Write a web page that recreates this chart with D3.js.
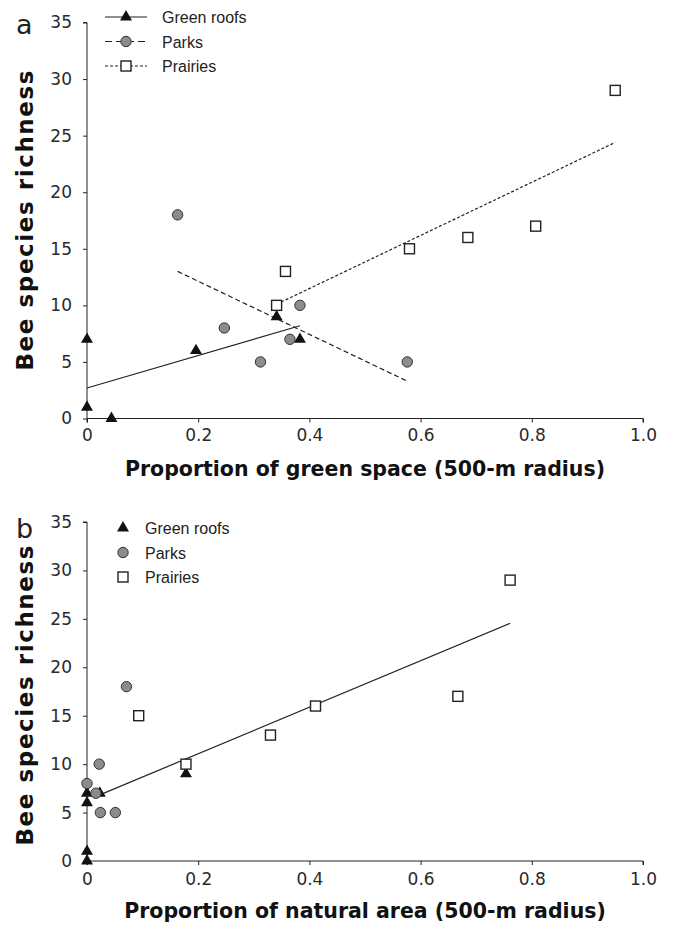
<!DOCTYPE html>
<html>
<head>
<meta charset="utf-8">
<script src="https://cdn.jsdelivr.net/npm/d3@7"></script>
<style>
  body { margin: 0; background: #fff; }
  .tick text { font-family: "DejaVu Sans", Verdana, sans-serif; font-size: 17px; fill: #2a2a2a; }
  .tick line, .domain { stroke: #222; }
  .ttl { font-family: "DejaVu Sans", Verdana, sans-serif; font-weight: bold; font-size: 20.5px; fill: #111; }
  .ytl { font-size: 23px; }
  .leg { font-family: "Liberation Sans", Arial, sans-serif; font-size: 16px; fill: #222; }
  .panel { font-family: "DejaVu Sans", Verdana, sans-serif; font-size: 27px; fill: #222; }
  .fit { fill: none; stroke: #222; stroke-width: 1.2; }
</style>
</head>
<body>
<div id="chart"></div>
<script>
// ---- data ----
var xTicks = [0, 0.2, 0.4, 0.6, 0.8, 1.0];
var yTicks = [0, 5, 10, 15, 20, 25, 30, 35];
var seriesNames = ["Green roofs", "Parks", "Prairies"];

// panel a : proportion of green space
var roofsA    = [[0, 7], [0, 1], [0.044, 0], [0.196, 6], [0.341, 9], [0.383, 7]];
var parksA    = [[0.163, 18], [0.247, 8], [0.312, 5], [0.365, 7], [0.383, 10], [0.576, 5]];
var prairiesA = [[0.341, 10], [0.357, 13], [0.580, 15], [0.685, 16], [0.807, 17], [0.950, 29]];
var fitRoofsA    = [[0, 2.7], [0.383, 8.2]];
var fitParksA    = [[0.163, 13.0], [0.576, 3.3]];
var fitPrairiesA = [[0.341, 10.1], [0.950, 24.4]];

// panel b : proportion of natural area
var roofsB    = [[0, 7], [0.023, 7], [0, 6], [0.178, 9], [0, 1], [0, 0]];
var parksB    = [[0.071, 18], [0.022, 10], [0, 8], [0.016, 7], [0.024, 5], [0.051, 5]];
var prairiesB = [[0.093, 15], [0.178, 10], [0.330, 13], [0.411, 16], [0.667, 17], [0.761, 29]];
var fitAllB   = [[0.022, 6.8], [0.761, 24.55]];

var width = 675, height = 930;
var svg = d3.select("#chart").append("svg")
  .attr("width", width)
  .attr("height", height);

var x = d3.scaleLinear().domain([0, 1]).range([87, 643]);

var dashes = { "Green roofs": null, "Parks": "7,4", "Prairies": "3,2" };

function marker(g, name, cx, cy) {
  if (name === "Green roofs") {
    g.append("path")
      .attr("d", d3.symbol().type(d3.symbolTriangle).size(62)())
      .attr("transform", "translate(" + cx + "," + cy + ")")
      .attr("fill", "#111");
  } else if (name === "Parks") {
    g.append("circle")
      .attr("cx", cx).attr("cy", cy).attr("r", 5.2)
      .attr("fill", "#8c8c8c")
      .attr("stroke", "#333").attr("stroke-width", 1);
  } else {
    g.append("rect")
      .attr("x", cx - 5).attr("y", cy - 5)
      .attr("width", 10).attr("height", 10)
      .attr("fill", "#fff")
      .attr("stroke", "#222").attr("stroke-width", 1.4);
  }
}

function panel(opt) {
  var y = d3.scaleLinear().domain([0, 35]).range([opt.bottom, opt.top]);
  var g = svg.append("g");

  g.append("g")
    .attr("transform", "translate(0," + opt.bottom + ")")
    .call(d3.axisBottom(x).tickValues(xTicks).tickSize(4).tickPadding(opt.xPad)
      .tickFormat(function (d) { return d === 0 ? "0" : d.toFixed(1); }))
    .call(function (a) { a.select(".domain").attr("d", "M87,4V0H643V4"); });

  g.append("g")
    .attr("transform", "translate(" + x(0) + ",0)")
    .call(d3.axisLeft(y).tickValues(yTicks).tickSize(4).tickPadding(11))
    .call(function (a) {
      a.select(".domain").attr("d", "M-4," + opt.top + "H0V" + opt.bottom);
    });

  // axis titles
  g.append("text").attr("class", "ttl")
    .attr("x", (x(0) + x(1)) / 2).attr("y", opt.bottom + 57)
    .attr("text-anchor", "middle")
    .text(opt.xTitle);
  g.append("text").attr("class", "ttl ytl")
    .attr("transform", "translate(33," + ((opt.top + opt.bottom) / 2 + opt.yTitleDy) + ") rotate(-90)")
    .attr("text-anchor", "middle")
    .attr("textLength", 300)
    .attr("lengthAdjust", "spacing")
    .text("Bee species richness");

  g.append("text").attr("class", "panel")
    .attr("x", 16).attr("y", opt.top + opt.letterDy)
    .text(opt.letter);

  var line = d3.line().x(function (d) { return x(d[0]); }).y(function (d) { return y(d[1]); });
  opt.fits.forEach(function (f) {
    g.append("path").datum(f.data)
      .attr("class", "fit")
      .attr("stroke-dasharray", f.dash)
      .attr("d", line);
  });

  var pts = g.append("g");
  opt.series.forEach(function (s) {
    s.data.forEach(function (d) { marker(pts, s.name, x(d[0]), y(d[1])); });
  });

  // legend
  var lg = g.append("g");
  seriesNames.forEach(function (name, i) {
    var ly = opt.legendY + i * 24.5;
    if (opt.legendLines) {
      lg.append("line")
        .attr("x1", 105).attr("x2", 147).attr("y1", ly).attr("y2", ly)
        .attr("stroke", "#222").attr("stroke-width", 1.2)
        .attr("stroke-dasharray", dashes[name]);
      marker(lg, name, 126, ly);
      lg.append("text").attr("class", "leg").attr("x", 162).attr("y", ly + 6).text(name);
    } else {
      marker(lg, name, 123, ly);
      lg.append("text").attr("class", "leg").attr("x", 145).attr("y", ly + 6).text(name);
    }
  });
}

panel({
  top: 22.5, bottom: 418.5, letter: "a", letterDy: 11, legendY: 17, legendLines: true, xPad: 6,
  yTitleDy: 0,
  xTitle: "Proportion of green space (500-m radius)",
  series: [
    { name: "Green roofs", data: roofsA },
    { name: "Parks", data: parksA },
    { name: "Prairies", data: prairiesA }
  ],
  fits: [
    { data: fitRoofsA, dash: null },
    { data: fitParksA, dash: "5,3" },
    { data: fitPrairiesA, dash: "3,2" }
  ]
});

panel({
  top: 522, bottom: 861, letter: "b", letterDy: 16, legendY: 528, legendLines: false, xPad: 8,
  yTitleDy: 4,
  xTitle: "Proportion of natural area (500-m radius)",
  series: [
    { name: "Green roofs", data: roofsB },
    { name: "Parks", data: parksB },
    { name: "Prairies", data: prairiesB }
  ],
  fits: [
    { data: fitAllB, dash: null }
  ]
});
</script>
</body>
</html>
